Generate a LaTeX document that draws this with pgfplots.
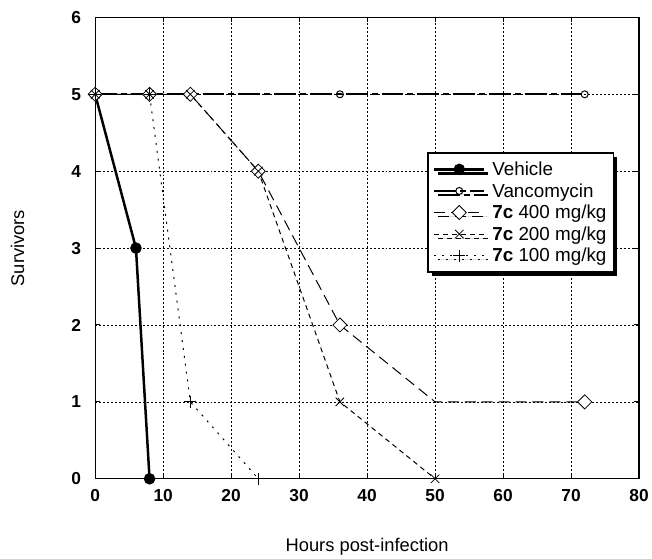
\documentclass[border=0pt]{standalone}
\usepackage{pgfplots}
\pgfplotsset{compat=1.18}
\usepackage{fontspec}
\setmainfont{Liberation Sans}
\usetikzlibrary{shadows}
\begin{document}
\begin{tikzpicture}
\begin{axis}[
  scale only axis, width=547bp, height=464bp,
  xmin=0, xmax=80, ymin=0, ymax=6,
  xtick={0,10,...,80}, ytick={0,1,...,6},
  grid=major,
  major grid style={black, line width=0.7bp, dash pattern=on 2bp off 2bp},
  axis line style={black, line width=1.2bp},
  tick style={black, line width=1bp},
  major tick length=5bp,
  tick align=inside,
  /pgf/number format/assume math mode=true,
  ticklabel style={font=\fontsize{17.5}{20}\selectfont\bfseries},
  xticklabel style={anchor=center, yshift=-16.5bp},
  yticklabel style={anchor=center, xshift=-19bp},
  xlabel={Hours post-infection}, ylabel={Survivors},
  label style={font=\fontsize{18.5}{21}\selectfont},
  xlabel style={at={(axis description cs:0.5,0)}, anchor=base, yshift=-73.5bp},
  ylabel style={at={(axis description cs:0,0.5)}, anchor=center, yshift=78bp},
  legend cell align=left,
  legend style={at={(rel axis cs:0.611,0.708)}, anchor=north west,
    draw=black, line width=1.5bp, fill=white,
    font=\fontsize{19}{22}\selectfont,
    inner xsep=5bp, inner ysep=7bp, row sep=2.5bp,
    /tikz/every odd column/.append style={column sep=5bp},
    drop shadow={shadow xshift=4bp, shadow yshift=-4bp, fill=black, opacity=1}},
  legend image code/.code={\draw[#1, mark indices={2}] plot coordinates {(0bp,0bp) (25bp,0bp) (50bp,0bp)};},
]
% Vehicle
\addplot[black, line width=2.5bp, mark=*, mark size=4.5bp, mark options={solid, fill=black}]
  coordinates {(0,5) (6,3) (8,0)};
\addlegendentry{Vehicle}
% Vancomycin
\addplot[black, line width=1.8bp, dash pattern=on 22bp off 4bp on 6bp off 4bp, mark=o, mark size=3.5bp, mark options={solid, line width=1bp}]
  coordinates {(0,5) (8,5) (14,5) (36,5) (72,5)};
\addlegendentry{Vancomycin}
% 7c 400
\addplot[black, line width=1bp, dash pattern=on 11bp off 6bp, mark=square*, mark size=5bp,
  mark options={solid, rotate=45, fill=white, line width=0.8bp}, mark indices={1,2,3,4,5,7}]
  coordinates {(0,5) (8,5) (14,5) (24,4) (36,2) (50,1) (72,1)};
\addlegendentry{\textbf{7c} 400 mg/kg}
% 7c 200
\addplot[black, line width=1bp, dash pattern=on 5bp off 4bp, mark=x, mark size=6bp,
  mark options={solid, line width=0.8bp}]
  coordinates {(0,5) (8,5) (14,5) (24,4) (36,1) (50,0)};
\addlegendentry{\textbf{7c} 200 mg/kg}
% 7c 100
\addplot[black, line width=1bp, dash pattern=on 2bp off 6bp, mark=+, mark size=6bp,
  mark options={solid, line width=0.8bp}]
  coordinates {(0,5) (8,5) (14,1) (24,0)};
\addlegendentry{\textbf{7c} 100 mg/kg}
\end{axis}
\path (current axis.south west) ++(-95.7bp,-76.5bp) rectangle ++(652bp,558bp);
\end{tikzpicture}
\end{document}
